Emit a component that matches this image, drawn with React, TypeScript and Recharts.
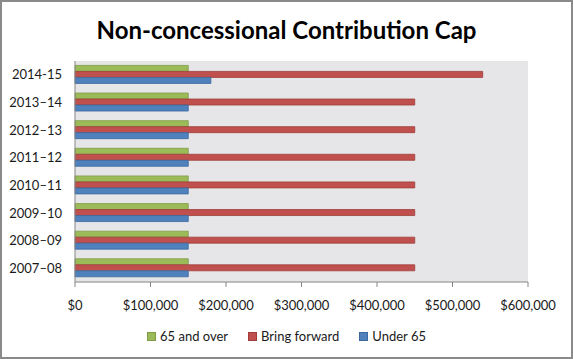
import { BarChart, Bar, XAxis, YAxis, CartesianGrid, Legend } from 'recharts';

// Financial years, bottom to top
const years = ['2007–08', '2008–09', '2009–10', '2010–11', '2011–12', '2012–13', '2013–14', '2014-15'];
const over65 = [150000, 150000, 150000, 150000, 150000, 150000, 150000, 150000];
const bringForward = [450000, 450000, 450000, 450000, 450000, 450000, 450000, 540000];
const under65 = [150000, 150000, 150000, 150000, 150000, 150000, 150000, 180000];
const xTicks = [0, 100000, 200000, 300000, 400000, 500000, 600000];

const series = [
  { key: 'over65', name: '65 and over', color: '#9bbb59', edge: '#809c46' },
  { key: 'bringForward', name: 'Bring forward', color: '#c0504d', edge: '#9e3d3a' },
  { key: 'under65', name: 'Under 65', color: '#4f81bd', edge: '#3c689e' },
];

const data = years.map((year, i) => ({
  year,
  over65: over65[i],
  bringForward: bringForward[i],
  under65: under65[i],
}));

// band boundaries for the Excel-style ticks between categories
const bandEdges = [...years.map((_, i) => i), years.length];

const FONT = 'Lato, "Open Sans", sans-serif';
const AXIS = '#868686';

const money = (v: number) => '$' + v.toLocaleString('en-US');

function LegendRow() {
  return (
    <div style={{ display: 'flex', justifyContent: 'center', fontFamily: FONT, fontSize: 13, color: '#1a1a1a', lineHeight: '16px' }}>
      {series.map((s, i) => (
        <span key={s.key} style={{ display: 'flex', alignItems: 'center', marginLeft: i ? 20 : 0 }}>
          <span style={{ display: 'inline-block', width: 7, height: 7, background: s.color, border: `1px solid ${s.edge}`, marginRight: 4 }} />
          {s.name}
        </span>
      ))}
    </div>
  );
}

export default function App() {
  return (
    <div
      style={{
        position: 'absolute',
        left: 0,
        top: 0,
        width: 573,
        height: 359,
        boxSizing: 'border-box',
        border: '2px solid #8a8a8a',
        background: '#fff',
        fontFamily: FONT,
      }}
    >
      <div
        style={{
          position: 'absolute',
          top: 13,
          left: 0,
          width: '100%',
          textAlign: 'center',
          fontSize: 24,
          fontWeight: 700,
          lineHeight: '30px',
          color: '#000',
        }}
      >
        Non-concessional Contribution Cap
      </div>
      <BarChart
        width={569}
        height={355}
        data={data}
        layout="vertical"
        margin={{ top: 59, right: 43, bottom: 27, left: 11 }}
        barCategoryGap="16%"
        barGap={0}
      >
        <CartesianGrid fill="#e6e6e8" stroke="none" horizontal={false} vertical={false} />
        <YAxis
          yAxisId="edges"
          type="number"
          domain={[0, years.length]}
          ticks={bandEdges}
          width={0}
          axisLine={false}
          tick={false}
          tickSize={5}
          tickLine={{ stroke: AXIS }}
        />
        <YAxis
          yAxisId="cat"
          type="category"
          dataKey="year"
          reversed
          width={62}
          tickSize={5}
          tickMargin={8}
          tickLine={false}
          axisLine={{ stroke: AXIS }}
          tick={{ fill: '#1a1a1a', fontSize: 13, fontFamily: FONT }}
        />
        <XAxis
          type="number"
          domain={[0, 600000]}
          ticks={xTicks}
          tickFormatter={money}
          height={32}
          tickSize={5}
          tickMargin={14}
          axisLine={{ stroke: AXIS }}
          tickLine={{ stroke: AXIS }}
          tick={{ fill: '#1a1a1a', fontSize: 13, fontFamily: FONT }}
        />
        <Legend
          verticalAlign="bottom"
          height={16}
          content={() => <LegendRow />}
          wrapperStyle={{ top: 326, left: 0, width: 569, height: 16 }}
        />
        {series.map((s) => (
          <Bar
            key={s.key}
            yAxisId="cat"
            dataKey={s.key}
            name={s.name}
            fill={s.color}
            stroke={s.edge}
            strokeWidth={0.8}
            isAnimationActive={false}
          />
        ))}
      </BarChart>
    </div>
  );
}
